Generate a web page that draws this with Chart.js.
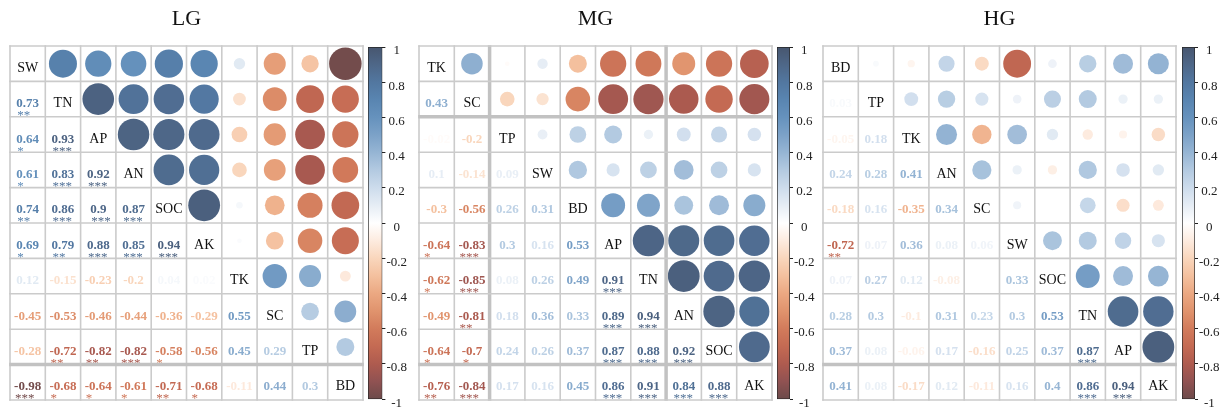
<!DOCTYPE html>
<html>
<head>
<meta charset="utf-8">
<script src="https://cdn.jsdelivr.net/npm/chart.js@4.4.0/dist/chart.umd.min.js"></script>
<style>
  html, body { margin: 0; padding: 0; background: #fff; overflow: hidden; width: 1221px; height: 408px; position: relative; }
  canvas { position: absolute; top: 0; }
</style>
</head>
<body>
<canvas id="lgMatrix" width="363" height="408" style="left:5px"></canvas>
<canvas id="lgBar" width="52" height="408" style="left:364px"></canvas>
<canvas id="mgMatrix" width="363" height="408" style="left:414px"></canvas>
<canvas id="mgBar" width="52" height="408" style="left:773px"></canvas>
<canvas id="hgMatrix" width="363" height="408" style="left:817.5px"></canvas>
<canvas id="hgBar" width="52" height="408" style="left:1178px"></canvas>
<script>
// ---- LG ----
const lgVars = ['SW', 'TN', 'AP', 'AN', 'SOC', 'AK', 'TK', 'SC', 'TP', 'BD'];
const lgLower = [
  [0.73],
  [0.64, 0.93],
  [0.61, 0.83, 0.92],
  [0.74, 0.86, 0.9, 0.87],
  [0.69, 0.79, 0.88, 0.85, 0.94],
  [0.12, -0.15, -0.23, -0.2, 0.04, 0.02],
  [-0.45, -0.53, -0.46, -0.44, -0.36, -0.29, 0.55],
  [-0.28, -0.72, -0.82, -0.82, -0.58, -0.56, 0.45, 0.29],
  [-0.98, -0.68, -0.64, -0.61, -0.71, -0.68, -0.11, 0.44, 0.3]
];
const lgStars = [
  ['**'],
  ['*', '***'],
  ['*', '***', '***'],
  ['**', '***', '***', '***'],
  ['*', '**', '***', '***', '***'],
  ['', '', '', '', '', ''],
  ['', '', '', '', '', '', ''],
  ['', '**', '**', '***', '*', '', '', ''],
  ['***', '*', '*', '*', '**', '*', '', '', '']
];

// ---- MG ----
const mgVars = ['TK', 'SC', 'TP', 'SW', 'BD', 'AP', 'TN', 'AN', 'SOC', 'AK'];
const mgLower = [
  [0.43],
  [-0.02, -0.2],
  [0.1, -0.14, 0.09],
  [-0.3, -0.56, 0.26, 0.31],
  [-0.64, -0.83, 0.3, 0.16, 0.53],
  [-0.62, -0.85, 0.08, 0.26, 0.49, 0.91],
  [-0.49, -0.81, 0.18, 0.36, 0.33, 0.89, 0.94],
  [-0.64, -0.7, 0.24, 0.26, 0.37, 0.87, 0.88, 0.92],
  [-0.76, -0.84, 0.17, 0.16, 0.45, 0.86, 0.91, 0.84, 0.88]
];
const mgStars = [
  [''],
  ['', ''],
  ['', '', ''],
  ['', '', '', ''],
  ['*', '***', '', '', ''],
  ['*', '***', '', '', '', '***'],
  ['', '**', '', '', '', '***', '***'],
  ['*', '*', '', '', '', '***', '***', '***'],
  ['**', '***', '', '', '', '***', '***', '***', '***']
];

// ---- HG ----
const hgVars = ['BD', 'TP', 'TK', 'AN', 'SC', 'SW', 'SOC', 'TN', 'AP', 'AK'];
const hgLower = [
  [0.03],
  [-0.05, 0.18],
  [0.24, 0.28, 0.41],
  [-0.18, 0.16, -0.35, 0.34],
  [-0.72, 0.07, 0.36, 0.08, 0.06],
  [0.07, 0.27, 0.12, -0.08, 0, 0.33],
  [0.28, 0.3, -0.1, 0.31, 0.23, 0.3, 0.53],
  [0.37, 0.08, -0.06, 0.17, -0.16, 0.25, 0.37, 0.87],
  [0.41, 0.08, -0.17, 0.12, -0.11, 0.16, 0.4, 0.86, 0.94]
];
const hgStars = [
  [''],
  ['', ''],
  ['', '', ''],
  ['', '', '', ''],
  ['**', '', '', '', ''],
  ['', '', '', '', '', ''],
  ['', '', '', '', '', '', ''],
  ['', '', '', '', '', '', '', '***'],
  ['', '', '', '', '', '', '', '***', '***']
];

// colour bar ticks
const barTicks = [1, 0.8, 0.6, 0.4, 0.2, 0, -0.2, -0.4, -0.6, -0.8, -1];

// diverging palette, brown-red (negative) -> white -> slate blue (positive)
const corrStops = [
  [-1.0, '#6c4a4a'], [-0.9, '#905252'], [-0.8, '#ae5b4f'], [-0.7, '#c46a53'],
  [-0.6, '#d27b5b'], [-0.5, '#e0936d'], [-0.4, '#eba882'], [-0.3, '#f4c09e'],
  [-0.2, '#f9d6bc'], [-0.1, '#fdebdf'], [0.0, '#ffffff'], [0.1, '#e6edf5'],
  [0.2, '#cddcec'], [0.3, '#b3cae1'], [0.4, '#96b5d4'], [0.5, '#7ca2c8'],
  [0.6, '#6692bd'], [0.7, '#5985b1'], [0.8, '#5277a0'], [0.9, '#4e6788'],
  [1.0, '#47566f']
];

const SERIF = '"Liberation Serif", "Times New Roman", serif';

function hexRgb(h) {
  const n = parseInt(h.slice(1), 16);
  return [(n >> 16) & 255, (n >> 8) & 255, n & 255];
}
function corrColor(v) {
  v = Math.max(-1, Math.min(1, v));
  for (let k = 0; k < corrStops.length - 1; k++) {
    const [a, ca] = corrStops[k], [b, cb] = corrStops[k + 1];
    if (v >= a && v <= b) {
      const t = (v - a) / (b - a);
      const A = hexRgb(ca), B = hexRgb(cb);
      const c = A.map((x, i) => Math.round(x + (B[i] - x) * t));
      return `rgb(${c[0]},${c[1]},${c[2]})`;
    }
  }
  return corrStops[corrStops.length - 1][1];
}

function fullMatrix(lower) {
  const n = lower.length + 1;
  const m = Array.from({ length: n }, (_, i) => Array.from({ length: n }, (_, j) => (i === j ? 1 : 0)));
  lower.forEach((row, r) => {
    const i = r + 1;
    row.forEach((v, j) => { m[i][j] = v; m[j][i] = v; });
  });
  return m;
}

// Draws diagonal names, lower-triangle coefficients with significance marks, and the cell grid.
const corrLayer = {
  id: 'corrLayer',
  afterDatasetsDraw(chart, args, opts) {
    const { ctx } = chart;
    const xs = chart.scales.x, ys = chart.scales.y;
    const vars = opts.vars, n = vars.length;
    ctx.save();
    for (let i = 0; i < n; i++) {
      for (let j = 0; j <= i; j++) {
        const cx = xs.getPixelForValue(j + 0.5);
        const cy = ys.getPixelForValue(i + 0.5);
        if (i === j) {
          ctx.font = `14px ${SERIF}`;
          ctx.fillStyle = '#111';
          ctx.textAlign = 'center';
          ctx.textBaseline = 'alphabetic';
          ctx.fillText(vars[i], cx, cy + 8);
        } else {
          const v = opts.lower[i - 1][j];
          const txt = String(v);
          const col = corrColor(v);
          ctx.font = `bold 13px ${SERIF}`;
          ctx.fillStyle = col;
          ctx.textAlign = 'center';
          ctx.textBaseline = 'alphabetic';
          ctx.fillText(txt, cx, cy + 8);
          const s = opts.stars[i - 1][j];
          if (s) {
            const w = ctx.measureText(txt).width;
            ctx.font = `13px ${SERIF}`;
            ctx.textAlign = 'left';
            ctx.fillText(s, cx - w / 2 + 1, cy + 20);
          }
        }
      }
    }
    // grid
    const top = ys.getPixelForValue(0), bottom = ys.getPixelForValue(n);
    const left = xs.getPixelForValue(0), right = xs.getPixelForValue(n);
    for (let k = 0; k <= n; k++) {
      const x = xs.getPixelForValue(k);
      const thickV = opts.thickV.includes(k);
      ctx.strokeStyle = thickV ? '#c2c2c2' : '#cbcbcb';
      ctx.lineWidth = thickV ? 3.5 : 1.6;
      ctx.beginPath(); ctx.moveTo(x, top - 0.8); ctx.lineTo(x, bottom + 0.8); ctx.stroke();
    }
    for (let k = 0; k <= n; k++) {
      const y = ys.getPixelForValue(k);
      const thickH = opts.thickH.includes(k);
      ctx.strokeStyle = thickH ? '#c2c2c2' : '#cbcbcb';
      ctx.lineWidth = thickH ? 3.5 : 1.6;
      ctx.beginPath(); ctx.moveTo(left - 0.8, y); ctx.lineTo(right + 0.8, y); ctx.stroke();
    }
    ctx.restore();
  }
};

function drawMatrix(id, title, vars, lower, stars, thickH, thickV) {
  const m = fullMatrix(lower);
  const n = vars.length;
  const pts = [];
  for (let i = 0; i < n; i++) {
    for (let j = i + 1; j < n; j++) pts.push({ x: j + 0.5, y: i + 0.5, v: m[i][j] });
  }
  const radius = (ctx) => {
    if (!ctx.raw) return 0;
    const xs = ctx.chart.scales.x;
    const cell = xs.getPixelForValue(1) - xs.getPixelForValue(0);
    return cell / 2 * 0.93 * Math.sqrt(Math.abs(ctx.raw.v));
  };
  new Chart(document.getElementById(id), {
    type: 'scatter',
    data: {
      datasets: [{
        data: pts,
        pointRadius: radius,
        pointHoverRadius: radius,
        pointBackgroundColor: (ctx) => (ctx.raw ? corrColor(ctx.raw.v) : '#fff'),
        pointBorderWidth: 0,
        pointBorderColor: 'rgba(0,0,0,0)',
        clip: false
      }]
    },
    options: {
      responsive: false,
      animation: false,
      events: [],
      layout: { padding: { left: 5, right: 5, top: 0, bottom: 8 } },
      scales: {
        x: { type: 'linear', min: 0, max: n, display: false },
        y: { type: 'linear', min: 0, max: n, reverse: true, display: false }
      },
      plugins: {
        legend: { display: false },
        tooltip: { enabled: false },
        title: {
          display: true, text: title, color: '#111',
          font: { family: SERIF, size: 22, weight: 'normal', lineHeight: 1.2 },
          padding: { top: 6, bottom: 13.6 }
        },
        corrLayer: { vars, lower, stars, thickH, thickV }
      }
    },
    plugins: [corrLayer]
  });
}

function drawColorBar(id, barW) {
  const canvas = document.getElementById(id);
  const padL = 4;
  new Chart(canvas, {
    type: 'bar',
    data: {
      labels: [''],
      datasets: [{
        data: [[-1, 1]],
        backgroundColor: (ctx) => {
          const ch = ctx.chart;
          if (!ch.chartArea) return '#fff';
          const y = ch.scales.y;
          const g = ch.ctx.createLinearGradient(0, y.getPixelForValue(-1), 0, y.getPixelForValue(1));
          corrStops.forEach(([v, c]) => g.addColorStop((v + 1) / 2, c));
          return g;
        },
        borderColor: '#262626',
        borderWidth: 1,
        borderSkipped: false,
        barPercentage: 1,
        categoryPercentage: 1
      }]
    },
    options: {
      responsive: false,
      animation: false,
      events: [],
      layout: { padding: { left: padL, right: 0, top: 47, bottom: 8 } },
      scales: {
        x: { display: false },
        y: {
          position: 'right', min: -1, max: 1,
          afterFit: (s) => { s.width = canvas.width - padL - barW; },
          afterBuildTicks: (s) => { s.ticks = barTicks.map((v) => ({ value: v })); },
          ticks: {
            labelOffset: 4, crossAlign: 'center', padding: 1, color: '#222',
            font: { family: SERIF, size: 13 },
            callback: (v) => String(Math.round(v * 10) / 10)
          },
          grid: { drawOnChartArea: false, drawTicks: true, tickLength: 3, color: '#222', lineWidth: 1 },
          border: { display: false }
        }
      },
      plugins: { legend: { display: false }, tooltip: { enabled: false } }
    }
  });
}

drawMatrix('lgMatrix', 'LG', lgVars, lgLower, lgStars, [9], []);
drawMatrix('mgMatrix', 'MG', mgVars, mgLower, mgStars, [2, 9], [2, 7]);
drawMatrix('hgMatrix', 'HG', hgVars, hgLower, hgStars, [9], []);
drawColorBar('lgBar', 14.4);
drawColorBar('mgBar', 13);
drawColorBar('hgBar', 13);
</script>
</body>
</html>
